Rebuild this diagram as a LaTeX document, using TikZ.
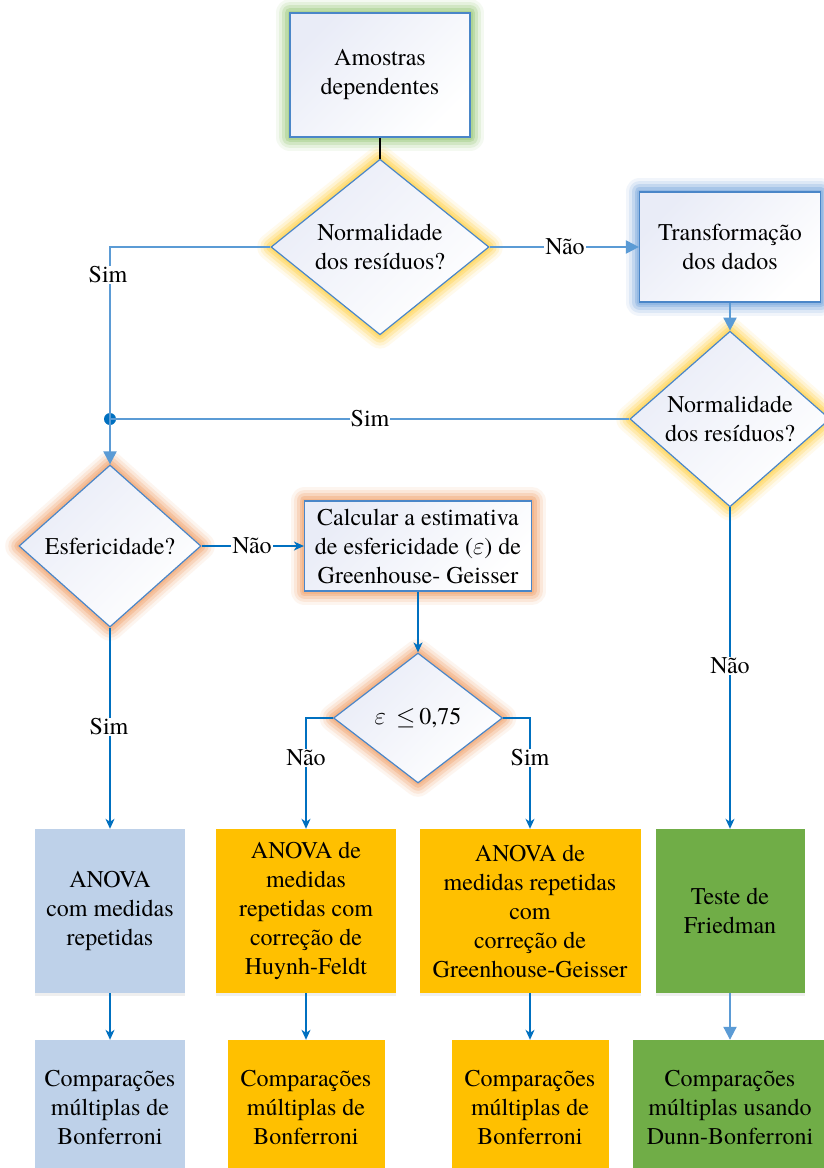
\documentclass[tikz,border=0pt]{standalone}
\usepackage{fontspec}
\setmainfont{texgyretermes}[Extension=.otf, UprightFont=*-regular,
  BoldFont=*-bold, ItalicFont=*-italic, BoldItalicFont=*-bolditalic]
\usetikzlibrary{shapes.geometric,arrows.meta,shadows}

\definecolor{lineA}{HTML}{5B9BD5}
\definecolor{lineB}{HTML}{0070C0}
\definecolor{edgeC}{HTML}{4A86C8}
\definecolor{tintC}{HTML}{E9ECF7}
\definecolor{glowG}{HTML}{A9D18E}
\definecolor{glowY}{HTML}{FFD966}
\definecolor{glowB}{HTML}{8DB4E2}
\definecolor{glowO}{HTML}{F4B183}
\definecolor{fillBlue}{HTML}{BED1E9}
\definecolor{fillGold}{HTML}{FFC000}
\definecolor{fillGreen}{HTML}{70AD47}

\newcommand\txtsize{\fontsize{24}{29}\selectfont}

\tikzset{
  glow/.style={
    preaction={draw=#1, line width=28pt, opacity=.12, line join=round},
    preaction={draw=#1, line width=22pt, opacity=.20, line join=round},
    preaction={draw=#1, line width=16pt, opacity=.32, line join=round},
    preaction={draw=#1, line width=10pt, opacity=.50, line join=round},
    preaction={draw=#1, line width=5pt, opacity=.70, line join=round}},
  softfill/.style={top color=tintC, bottom color=white, shading angle=45},
  procbox/.style={rectangle, draw=edgeC, line width=1.2pt, softfill,
    align=center, font=\txtsize, inner sep=0pt},
  decision/.style={diamond, draw=edgeC, line width=1.2pt, softfill,
    align=center, font=\txtsize, inner sep=0pt},
  result/.style={rectangle, fill=#1, align=center, font=\txtsize,
    inner sep=0pt, drop shadow={shadow xshift=0pt, shadow yshift=-3pt, opacity=.12}},
  lightarrow/.style={draw=lineA, line width=2pt,
    -{Triangle[length=13pt,width=13pt]}},
  lightline/.style={draw=lineA, line width=2pt},
  darkarrow/.style={draw=lineB, line width=1.5pt,
    -{Stealth[length=10pt,width=9pt,inset=3pt]}},
  tag/.style={fill=white, inner sep=1pt, font=\txtsize}
}

\begin{document}
\begin{tikzpicture}[x=1pt,y=-1pt]
\useasboundingbox (0,0) rectangle (823,1168);
\fill[white] (0,0) rectangle (823,1168);

% upper part of the flow
\node[procbox, glow=glowG, minimum width=180pt, minimum height=124pt]
  (amostras) at (380,75) {Amostras\\dependentes};
\node[decision, glow=glowY, minimum width=218pt, minimum height=163pt]
  (norm1) at (380,247) {Normalidade\\dos resíduos?};
\node[procbox, glow=glowB, minimum width=181pt, minimum height=110pt]
  (transf) at (730,247) {Transformação\\dos dados};
\node[decision, glow=glowY, minimum width=200pt, minimum height=169pt]
  (norm2) at (730,419) {Normalidade\\dos resíduos?};
\node[decision, glow=glowO, minimum width=182pt, minimum height=162pt]
  (esfer) at (110,546) {Esfericidade?};
\node[procbox, glow=glowO, minimum width=227pt, minimum height=90pt]
  (calc) at (418,546) {Calcular a estimativa\\de esfericidade ($\varepsilon$) de\\Greenhouse- Geisser};
\node[decision, glow=glowO, minimum width=169pt, minimum height=130pt]
  (eps) at (418,718) {$\varepsilon$\hspace{10pt}$\leq$\hspace{4pt}0,75};

\node[circle, fill=lineB, inner sep=0pt, minimum size=12pt] (junc) at (110,419) {};

% test boxes
\node[result=fillBlue, minimum width=150pt, minimum height=164pt]
  (anova) at (110,911) {ANOVA\\com medidas\\repetidas};
\node[result=fillGold, minimum width=180pt, minimum height=164pt]
  (huynh) at (306,911) {ANOVA de\\medidas\\repetidas com\\correção de\\Huynh-Feldt};
\node[result=fillGold, minimum width=221pt, minimum height=164pt]
  (green) at (530,911) {ANOVA de\\medidas repetidas\\com\\correção de\\Greenhouse-Geisser};
\node[result=fillGreen, minimum width=149pt, minimum height=164pt]
  (fried) at (730,911) {Teste de\\Friedman};

% post-hoc boxes
\node[result=fillBlue, minimum width=150pt, minimum height=134pt]
  (post1) at (110,1107) {Comparações\\múltiplas de\\Bonferroni};
\node[result=fillGold, minimum width=157pt, minimum height=134pt]
  (post2) at (306,1107) {Comparações\\múltiplas de\\Bonferroni};
\node[result=fillGold, minimum width=157pt, minimum height=134pt]
  (post3) at (530,1107) {Comparações\\múltiplas de\\Bonferroni};
\node[result=fillGreen, minimum width=194pt, minimum height=134pt]
  (post4) at (730,1107) {Comparações\\múltiplas usando\\Dunn-Bonferroni};

% connectors
\draw[black, line width=1.2pt] (amostras.south) -- (norm1.north);
\draw[lightline] (norm1.west) -| (junc.center);
\draw[lightarrow] (junc.center) -- (esfer.north);
\draw[lightarrow] (norm1.east) -- (transf.west);
\draw[lightarrow] (transf.south) -- (norm2.north);
\draw[lightline] (norm2.west) -- (junc.center);
\draw[darkarrow] (norm2.south) -- (fried.north);
\draw[darkarrow] (esfer.south) -- (anova.north);
\draw[darkarrow] (esfer.east) -- (calc.west);
\draw[darkarrow] (calc.south) -- (eps.north);
\draw[darkarrow] (eps.west) -| (huynh.north);
\draw[darkarrow] (eps.east) -| (green.north);
\draw[darkarrow] (anova.south) -- (post1.north);
\draw[darkarrow] (huynh.south) -- (post2.north);
\draw[darkarrow] (green.south) -- (post3.north);
\draw[lightarrow] (fried.south) -- (post4.north);

% branch labels
\node[tag] (simA) at (108,275) {Sim};
\node[tag] (naoA) at (565,247) {Não};
\node[tag] (simB) at (370,419) {Sim};
\node[tag] (naoB) at (252,546) {Não};
\node[tag] (naoC) at (730,666) {Não};
\node[tag] (simC) at (109,727) {Sim};
\node[tag] (naoD) at (306,758) {Não};
\node[tag] (simD) at (530,758) {Sim};
\end{tikzpicture}
\end{document}
